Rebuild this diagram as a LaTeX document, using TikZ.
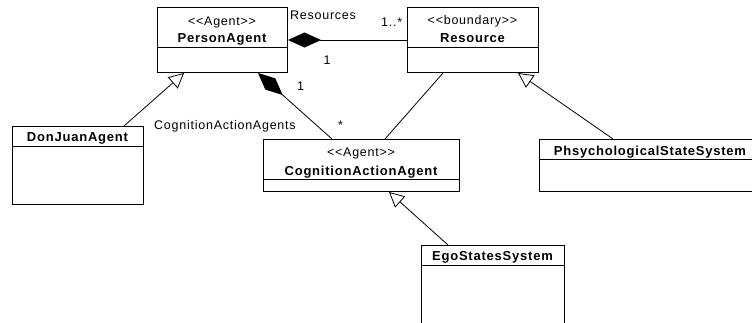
\documentclass[tikz,border=0pt]{standalone}
\usepackage{fontspec}
\setmainfont{Liberation Sans}
\newfontfamily\umlfont[LetterSpace=6]{Liberation Sans}
\usetikzlibrary{arrows.meta}
\begin{document}
\begin{tikzpicture}[x=1pt,y=-1pt,
  classbox/.style={draw=black, line width=1pt, fill=white, inner sep=0pt, anchor=north west},
  stereo/.style={font=\umlfont\fontsize{12.5}{14}\selectfont, anchor=base, inner sep=0pt},
  cname/.style={font=\umlfont\bfseries\fontsize{13}{15}\selectfont, anchor=base, inner sep=0pt},
  lbl/.style={font=\umlfont\fontsize{12.5}{14}\selectfont, anchor=base west, inner sep=0pt},
  assoc/.style={draw=black, line width=0.8pt},
  composite/.style={assoc, {Diamond[length=33pt,width=15pt,fill=black]}-},
  generalize/.style={assoc, -{Triangle[open,length=15pt,width=15pt,fill=white]}},
  divider/.style={draw=black, line width=1pt},
]
\useasboundingbox (0,0) rectangle (752,322);
\fill[white] (0,0) rectangle (752,322);
\clip (0,0) rectangle (752,322);

% class boxes
\node[classbox, minimum width=130pt, minimum height=65pt] (person) at (157,7) {};
\node[classbox, minimum width=131pt, minimum height=65pt] (resource) at (407,7) {};
\node[classbox, minimum width=131pt, minimum height=78pt] (donjuan) at (12,126) {};
\node[classbox, minimum width=196pt, minimum height=52pt] (caa) at (263,139) {};
\node[classbox, minimum width=222pt, minimum height=52pt] (phys) at (539,139) {};
\node[classbox, minimum width=143pt, minimum height=100pt] (ego) at (421,245) {};

% compartment dividers
\draw[divider] ([yshift=-40pt]person.north west) -- ([yshift=-40pt]person.north east);
\draw[divider] ([yshift=-40pt]resource.north west) -- ([yshift=-40pt]resource.north east);
\draw[divider] ([yshift=-20pt]donjuan.north west) -- ([yshift=-20pt]donjuan.north east);
\draw[divider] ([yshift=-40pt]caa.north west) -- ([yshift=-40pt]caa.north east);
\draw[divider] ([yshift=-20pt]phys.north west) -- ([yshift=-20pt]phys.north east);
\draw[divider] ([yshift=-20pt]ego.north west) -- ([yshift=-20pt]ego.north east);

% class titles
\node[stereo] (person-st) at (222,25) {<<Agent>>};
\node[cname]  (person-nm) at (222,42.3) {PersonAgent};
\node[stereo] (resource-st) at (472.5,24.5) {<<boundary>>};
\node[cname]  (resource-nm) at (472.5,42.5) {Resource};
\node[cname]  (donjuan-nm) at (77.5,141.5) {DonJuanAgent};
\node[stereo] (caa-st) at (361,156.5) {<<Agent>>};
\node[cname]  (caa-nm) at (361,175) {CognitionActionAgent};
\node[cname]  (phys-nm) at (650,155) {PhsychologicalStateSystem};
\node[cname]  (ego-nm) at (492.5,260) {EgoStatesSystem};

% relationships
\draw[composite] (person.east) -- (resource.west);
\draw[composite] ([xshift=101pt]person.south west) -- ([xshift=69pt]caa.north west);
\draw[assoc] ([xshift=36pt]resource.south west) -- ([xshift=122pt]caa.north west);
\draw[generalize] ([xshift=112pt]donjuan.north west) -- ([xshift=27pt]person.south west);
\draw[generalize] ([xshift=74pt]phys.north west) -- ([xshift=111pt]resource.south west);
\draw[generalize] ([xshift=27pt]ego.north west) -- ([xshift=126pt]caa.south west);

% role names and multiplicities
\node[lbl] (l-res) at (290,19.3) {Resources};
\node[lbl] (l-res-m) at (381,26.5) {1..*};
\node[lbl] (l-res-1) at (323.5,64) {1};
\node[lbl] (l-caa-1) at (297,90.5) {1};
\node[lbl] (l-caa) at (154,129.5) {CognitionActionAgents};
\node[lbl] (l-caa-m) at (338,129.5) {*};
\end{tikzpicture}
\end{document}
